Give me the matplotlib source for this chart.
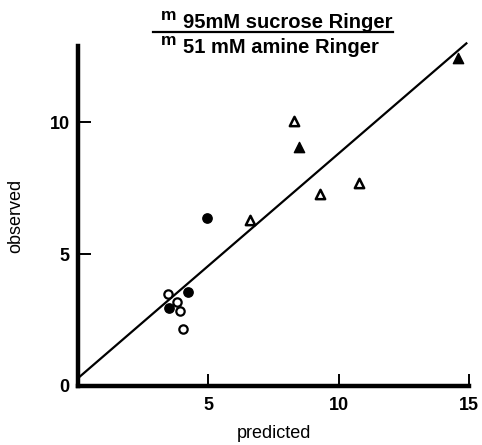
import matplotlib
matplotlib.use('Agg')
import matplotlib.pyplot as plt
import numpy as np
from matplotlib.lines import Line2D

plt.rcParams['font.family'] = ['Liberation Sans', 'DejaVu Sans']
plt.rcParams['font.weight'] = 'bold'

# open circles
oc_x = [3.46, 3.8, 3.92, 4.04]
oc_y = [3.48, 3.18, 2.84, 2.16]
# filled circles
fc_x = [3.5, 4.23, 4.96]
fc_y = [2.95, 3.56, 6.36]
# open triangles
ot_x = [6.58, 8.27, 9.3, 10.77]
ot_y = [6.29, 10.04, 7.27, 7.69]
# filled triangles
ft_x = [8.47, 14.58]
ft_y = [9.05, 12.46]

# regression line
fit_x = [0.0, 14.9]
fit_y = [0.3, 13.0]

fig = plt.figure(figsize=(4.82, 4.45), dpi=100)
ax = fig.add_axes([0.162, 0.1326, 0.811, 0.764])

ax.plot(fit_x, fit_y, color='black', lw=1.6, clip_on=False)
ax.scatter(oc_x, oc_y, s=36, facecolors='white', edgecolors='black', linewidths=1.6, zorder=3)
ax.scatter(fc_x, fc_y, s=45, c='black', zorder=3)
ax.scatter(ot_x, ot_y, s=45, marker='^', facecolors='white', edgecolors='black', linewidths=1.8, zorder=3)
ax.scatter(ft_x, ft_y, s=55, marker='^', c='black', zorder=3)

ax.set_xlim(0, 15)
ax.set_ylim(0, 12.9)
ax.spines['top'].set_visible(False)
ax.spines['right'].set_visible(False)
ax.spines['left'].set_linewidth(3.2)
ax.spines['bottom'].set_linewidth(3.2)

ax.set_xticks([5, 10, 15])
ax.set_yticks([0, 5, 10])
ax.tick_params(axis='both', direction='in', length=9, width=1.4, labelsize=13, pad=6)
ax.tick_params(axis='x', pad=8)

ax.set_xlabel('predicted', fontsize=13, labelpad=8)
ax.set_ylabel('observed', fontsize=13, labelpad=18)

# fraction title
fig.text(161 / 482, 1 - 20 / 445, 'm', fontsize=12.5, ha='left', va='baseline')
fig.text(183 / 482, 1 - 28 / 445, '95mM sucrose Ringer', fontsize=14.5, ha='left', va='baseline')
fig.add_artist(Line2D([153 / 482, 393 / 482], [1 - 32 / 445, 1 - 32 / 445], color='black', lw=1.6))
fig.text(161 / 482, 1 - 45 / 445, 'm', fontsize=12.5, ha='left', va='baseline')
fig.text(183 / 482, 1 - 53 / 445, '51 mM amine Ringer', fontsize=14.5, ha='left', va='baseline')

fig.savefig('out.png', dpi=100)
